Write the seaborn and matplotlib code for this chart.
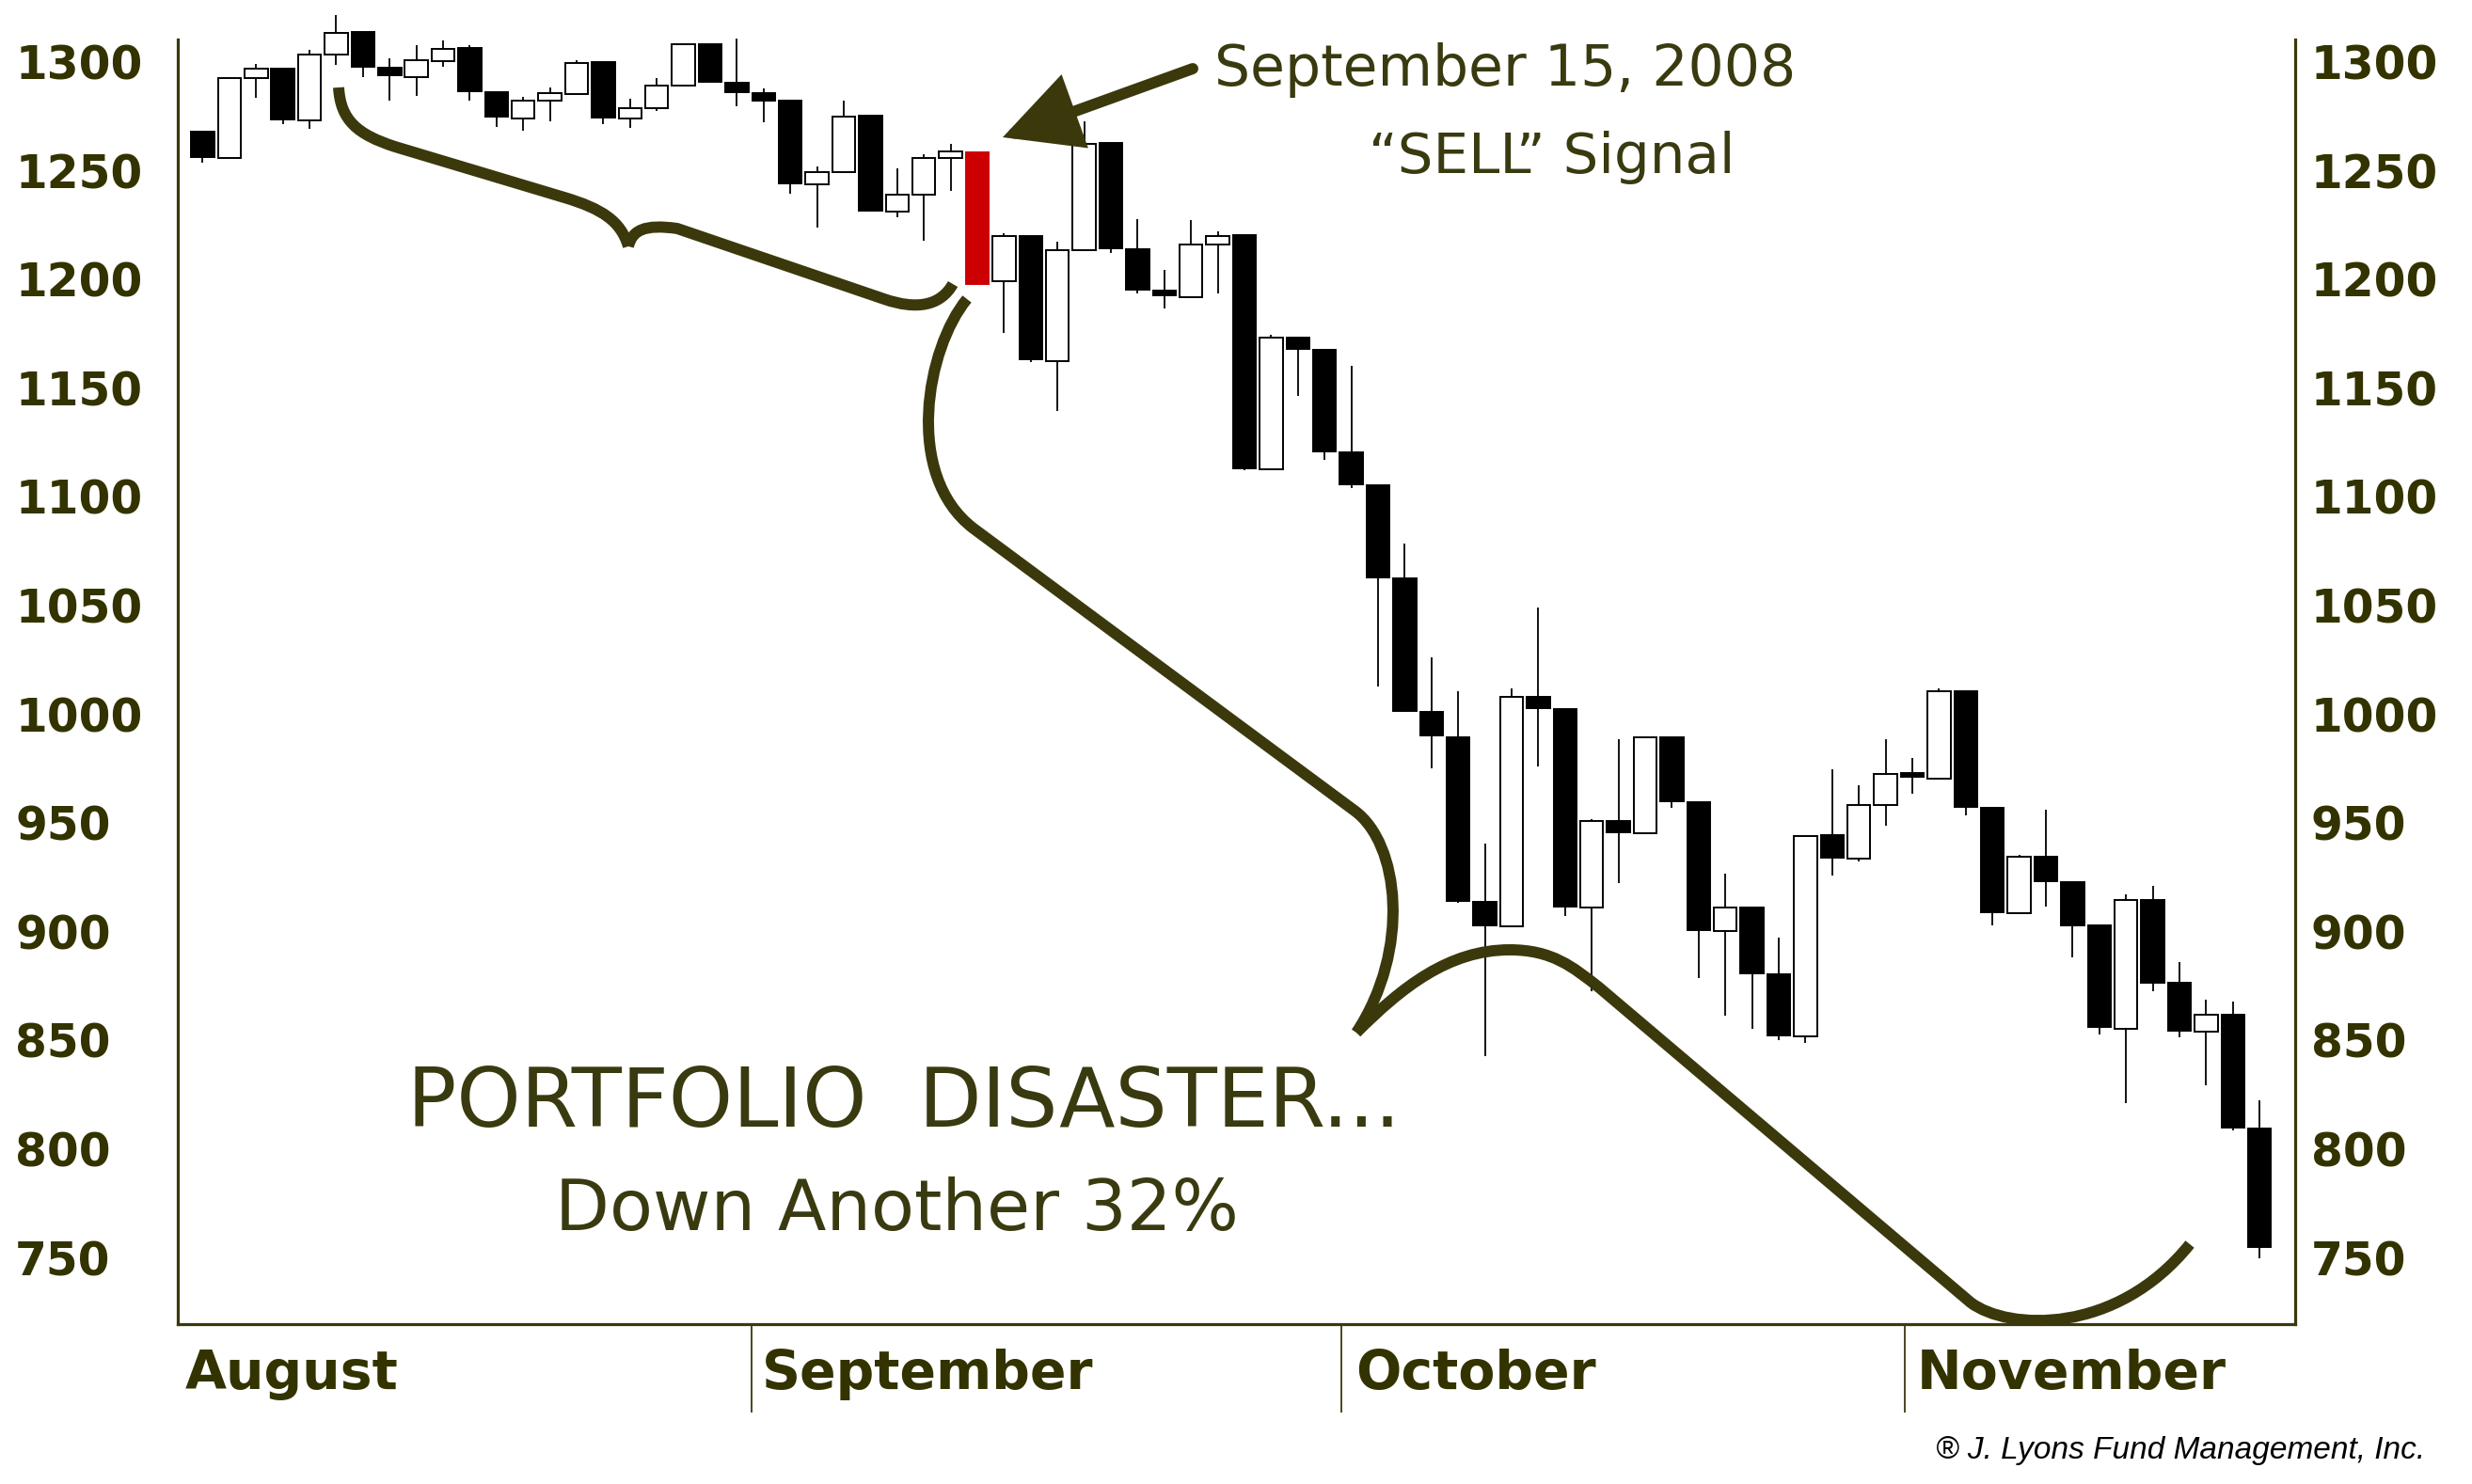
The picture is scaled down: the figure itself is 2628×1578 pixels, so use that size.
import numpy as np
import pandas as pd
import matplotlib
matplotlib.use("Agg")
import matplotlib.pyplot as plt
import seaborn as sns
from matplotlib.path import Path
from matplotlib.patches import PathPatch, FancyArrowPatch
from matplotlib.transforms import Affine2D

# ---------------- data ----------------
dates = [d for d in pd.bdate_range("2008-08-04", "2008-11-20") if d != pd.Timestamp("2008-09-01")]
opens = [1267.7, 1255.5, 1292.3, 1296.6, 1273.1, 1303.2, 1313.5, 1297.3, 1293.0, 1300.2,
         1306.2, 1286.0, 1273.8, 1282.2, 1285.1, 1299.8, 1273.8, 1278.6, 1289.1, 1308.1,
         1290.1, 1285.3, 1282.2, 1243.5, 1249.3, 1275.0, 1230.9, 1238.8, 1255.8, 1258.4,
         1199.0, 1219.9, 1162.2, 1213.4, 1262.4, 1213.6, 1194.5, 1191.6, 1215.9, 1220.0,
         1112.5, 1172.9, 1167.3, 1120.1, 1105.1, 1062.2, 1001.0, 989.4, 913.7, 902.3,
         1007.6, 1002.3, 911.0, 950.5, 945.0, 989.4, 959.3, 899.9, 911.0, 880.1,
         851.6, 944.0, 933.6, 958.1, 972.8, 970.3, 1010.2, 956.6, 908.1, 934.4,
         922.4, 902.5, 855.2, 914.5, 876.1, 853.7, 861.8, 809.3]
highs = [1267.7, 1293.0, 1298.8, 1296.6, 1305.2, 1321.4, 1313.5, 1301.4, 1307.4, 1309.8,
         1307.4, 1286.0, 1283.6, 1288.2, 1300.5, 1299.8, 1282.9, 1292.3, 1308.1, 1308.1,
         1310.7, 1287.5, 1282.2, 1251.6, 1281.9, 1275.6, 1250.7, 1257.2, 1262.0, 1258.4,
         1221.2, 1219.9, 1217.3, 1272.4, 1262.4, 1227.7, 1204.0, 1227.0, 1222.0, 1220.0,
         1174.5, 1172.9, 1167.3, 1160.1, 1105.1, 1078.1, 1025.8, 1010.4, 940.2, 1011.7,
         1049.0, 1002.3, 951.6, 988.5, 989.4, 989.4, 959.3, 926.5, 911.0, 897.0,
         943.8, 974.4, 967.0, 988.4, 979.6, 1011.6, 1010.2, 956.6, 935.3, 956.0,
         922.4, 902.5, 917.0, 920.7, 885.9, 868.7, 867.6, 822.4]
lows = [1253.6, 1255.0, 1283.3, 1271.3, 1269.2, 1298.3, 1293.0, 1281.9, 1284.2, 1297.7,
        1281.9, 1269.9, 1268.1, 1272.4, 1285.1, 1271.3, 1269.6, 1277.1, 1289.0, 1290.5,
        1279.3, 1272.1, 1239.3, 1223.5, 1249.0, 1231.0, 1228.4, 1217.7, 1240.4, 1197.6,
        1175.1, 1161.8, 1139.2, 1213.0, 1211.8, 1193.2, 1186.3, 1191.0, 1193.2, 1112.0,
        1112.5, 1146.4, 1116.7, 1103.8, 1012.5, 1001.0, 974.8, 913.0, 842.6, 902.3,
        975.6, 906.9, 872.6, 922.0, 945.0, 956.6, 878.4, 861.0, 854.9, 850.0,
        848.7, 925.5, 931.9, 948.6, 963.1, 970.0, 953.5, 902.9, 908.0, 911.2,
        888.0, 852.7, 820.8, 872.6, 851.2, 829.0, 808.3, 749.4]
closes = [1256.2, 1292.5, 1296.6, 1273.5, 1303.3, 1313.3, 1297.6, 1293.7, 1300.5, 1305.9,
          1286.5, 1274.6, 1282.2, 1285.3, 1299.5, 1274.2, 1278.6, 1289.1, 1308.1, 1290.5,
          1285.8, 1282.2, 1244.0, 1249.3, 1274.7, 1231.3, 1238.9, 1255.8, 1258.8, 1197.6,
          1219.9, 1162.9, 1213.4, 1262.3, 1214.0, 1195.0, 1192.4, 1215.9, 1219.7, 1112.8,
          1172.9, 1167.9, 1120.7, 1105.7, 1062.6, 1001.3, 989.9, 914.0, 902.8, 1007.6,
          1002.6, 911.5, 950.5, 945.5, 989.4, 959.6, 900.5, 911.0, 880.6, 852.0,
          943.8, 934.0, 958.1, 972.4, 971.0, 1010.2, 957.4, 908.7, 934.4, 923.0,
          902.9, 856.0, 914.5, 876.4, 854.3, 861.8, 809.7, 754.8]
signal_date = pd.Timestamp("2008-09-15")
month_labels = ["August", "September", "October", "November"]
y_ticks = [750, 800, 850, 900, 950, 1000, 1050, 1100, 1150, 1200, 1250, 1300]

# ---------------- style ----------------
sns.set_theme(style="white")
plt.rcParams["font.family"] = ["DejaVu Sans"]
OLIVE_TXT = "#333300"
OLIVE_LN = "#3b390c"

W, H = 2628, 1578
fig = plt.figure(figsize=(W / 100, H / 100), dpi=100)
fig.patch.set_facecolor("white")
ax = fig.add_axes([189 / W, 1 - 1408 / H, (2440 - 189) / W, 1408 / H])
ax.set_facecolor("white")

df = pd.DataFrame({"date": dates, "open": opens, "high": highs, "low": lows, "close": closes})
df["idx"] = np.arange(len(df))
df["bottom"] = df[["open", "close"]].min(axis=1)
df["height"] = (df["close"] - df["open"]).abs()
df["kind"] = np.where(df["close"] >= df["open"], "up", "down")
df.loc[df["date"] == signal_date, "kind"] = "signal"

face = {"up": "white", "down": "black", "signal": "#cc0000"}
edge = {"up": "black", "down": "black", "signal": "#cc0000"}

# wicks
ax.vlines(df["idx"], df["low"], df["high"], color="black", lw=1.3, zorder=2)
# bodies
ax.bar(df["idx"], df["height"], bottom=df["bottom"], width=0.86,
       color=[face[k] for k in df["kind"]], edgecolor=[edge[k] for k in df["kind"]],
       linewidth=1.4, zorder=3)

ylo, yhi = 719.3, 1328.3
ax.set_ylim(ylo, yhi)
ax.set_xlim(-0.933, 78.33)

# spines
ax.spines["top"].set_visible(False)
for s in ["left", "right", "bottom"]:
    ax.spines[s].set_visible(True)
    ax.spines[s].set_color(OLIVE_LN)
    ax.spines[s].set_linewidth(2.3)
ax.spines["left"].set_bounds(ylo, 1310.3)
ax.spines["right"].set_bounds(ylo, 1310.3)

# y labels, left (left-aligned at the figure edge)
ax.set_yticks(y_ticks)
ax.set_yticklabels([str(v) for v in y_ticks])
ax.tick_params(axis="y", length=0, pad=124.5, labelsize=35, labelcolor=OLIVE_TXT)
for t in ax.get_yticklabels():
    t.set_ha("left")
    t.set_fontweight("bold")

# y labels, right
ax2 = ax.twinx()
ax2.set_ylim(ylo, yhi)
ax2.set_yticks(y_ticks)
ax2.set_yticklabels([str(v) for v in y_ticks])
ax2.tick_params(axis="y", length=0, pad=12, labelsize=35, labelcolor=OLIVE_TXT)
for t in ax2.get_yticklabels():
    t.set_fontweight("bold")
for s in ax2.spines.values():
    s.set_visible(False)
ax2.grid(False)

# x: month labels and separators
label_pos = [-0.65, 20.94, 43.15, 64.17]
sep_pos = [20.55, 42.62, 63.71]
ax.set_xticks(label_pos)
ax.set_xticklabels(month_labels)
ax.set_xticks(sep_pos, minor=True)
ax.tick_params(axis="x", which="major", length=0, pad=19, labelsize=38, labelcolor=OLIVE_TXT)
ax.tick_params(axis="x", which="minor", length=68, width=1.3, color=OLIVE_LN, direction="out", bottom=True)
for t in ax.get_xticklabels():
    t.set_ha("left")
    t.set_fontweight("bold")
ax.grid(False)

# ---------------- annotations in reference pixel coordinates ----------------
pix = Affine2D().scale(1 / W, -1 / H).translate(0, 1) + fig.transFigure
M, L4, LT = Path.MOVETO, Path.CURVE4, Path.LINETO

def stroke(verts, codes, lw=8.6):
    p = PathPatch(Path(verts, codes), transform=pix, facecolor="none", edgecolor=OLIVE_LN,
                  lw=lw, capstyle="butt", joinstyle="round", zorder=5)
    fig.add_artist(p)

# small brace
stroke([(360, 93), (362, 128), (380, 143), (420, 156), (600, 210), (640, 222), (660, 235), (668, 262)],
       [M, L4, L4, L4, LT, L4, L4, L4])
stroke([(668, 262), (672, 245), (685, 238), (720, 243), (940, 318), (975, 330), (1000, 325), (1013, 302)],
       [M, L4, L4, L4, LT, L4, L4, L4])
# big brace
stroke([(1028, 318), (985, 370), (960, 505), (1035, 562), (1440, 862), (1488, 897), (1500, 1010), (1442, 1098)],
       [M, L4, L4, L4, LT, L4, L4, L4])
stroke([(1442, 1098), (1490, 1050), (1540, 1010), (1605, 1010), (1650, 1010), (1672, 1028), (1700, 1050),
        (2095, 1385), (2135, 1415), (2250, 1420), (2328, 1323)],
       [M, L4, L4, L4, L4, L4, L4, LT, L4, L4, L4])

arrow = FancyArrowPatch(posA=(1268, 73), posB=(1066, 146), transform=pix,
                        arrowstyle="-|>,head_length=0.45,head_width=0.23", mutation_scale=100,
                        color=OLIVE_LN, lw=8.6, shrinkA=0, shrinkB=0, joinstyle="miter", zorder=6)
fig.add_artist(arrow)

hand = dict(family=["DejaVu Sans"], fontweight="normal", color="#3a3a10",
            ha="center", va="center", transform=pix, zorder=7)
texts = [
    (fig.text(1600, 75, "September 15, 2008", fontsize=40, **hand), 617),
    (fig.text(1650, 168, "\u201cSELL\u201d Signal", fontsize=40, **hand), 389),
    (fig.text(961, 1174, "PORTFOLIO  DISASTER...", fontsize=40, **hand), 1056),
    (fig.text(953, 1288, "Down Another 32%", fontsize=40, **hand), 726),
    (fig.text(2578, 1543, "\u00ae J. Lyons Fund Management, Inc.", fontsize=20, fontstyle="italic",
              family=["Liberation Sans", "DejaVu Sans"], color="black", ha="right", va="center",
              transform=pix), 519),
]
fig.canvas.draw()
r = fig.canvas.get_renderer()
for t, target in texts:
    w = t.get_window_extent(r).width
    t.set_fontsize(t.get_fontsize() * target / w)

# fit month labels so "September" spans ~352 px
fig.canvas.draw()
sep_lab = ax.get_xticklabels()[1]
w = sep_lab.get_window_extent(r).width
ax.tick_params(axis="x", which="major", labelsize=38 * 352 / w)

fig.savefig("out.png", dpi=100, facecolor="white")
